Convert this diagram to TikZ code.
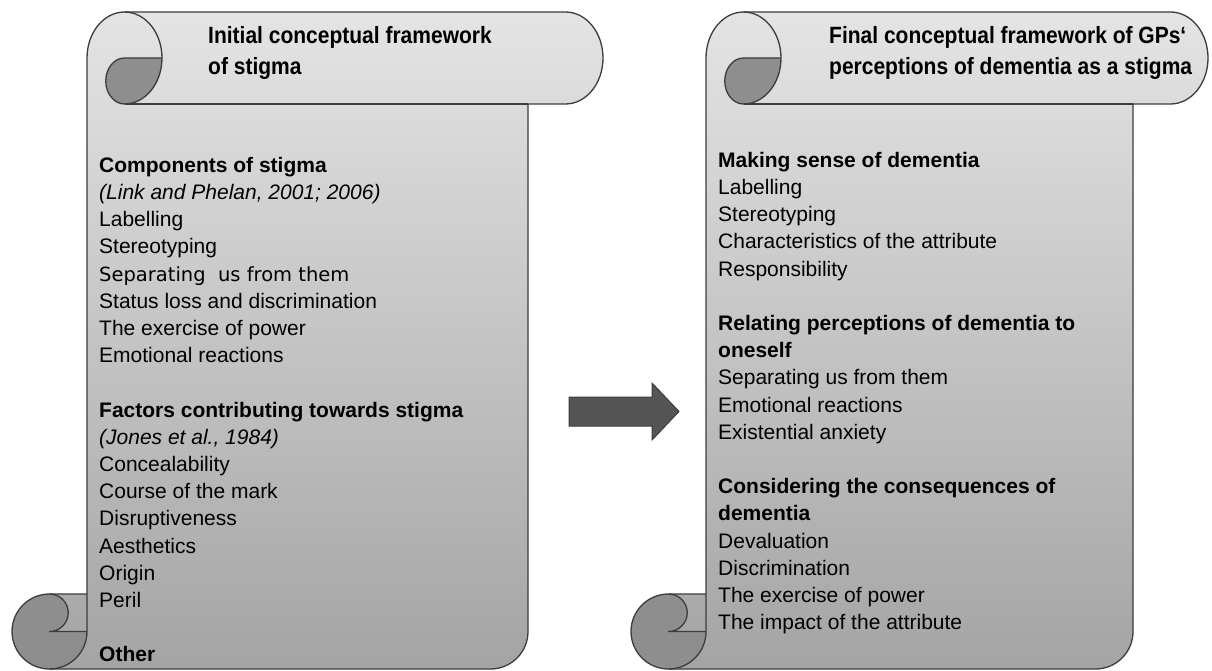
\documentclass[tikz,border=0pt]{standalone}
\usepackage{fontspec}
\setmainfont{Liberation Sans}
\newfontfamily\widefont{DejaVu Sans}
\usepackage{xcolor}
\usetikzlibrary{positioning}

\definecolor{scrolltop}{HTML}{E4E4E4}
\definecolor{scrollbottom}{HTML}{A4A4A4}
\definecolor{curlgray}{HTML}{8E8E8E}
\definecolor{edgegray}{HTML}{3C3C3C}
\definecolor{arrowgray}{HTML}{555555}

%% scroll geometry: top, bottom, curl size and its halves
\def\scT{12}
\def\scB{669}
\def\scC{75}
\def\scH{37.5}
\def\scQ{18.75}
% the top roll is a bit taller than the bottom curl
\def\scV{46}
\def\scW{23}

% #1 = left edge, #2 = right edge of the scroll
\newcommand{\drawscroll}[2]{%
  \pgfmathsetmacro{\scXa}{#1+\scH}
  \pgfmathsetmacro{\scXb}{#1+\scC}
  \pgfmathsetmacro{\scXc}{#1+\scC+\scH}
  \pgfmathsetmacro{\scXd}{#1+2*\scC}
  \pgfmathsetmacro{\scXe}{#2-\scC}
  \pgfmathsetmacro{\scXf}{#2-\scH}
  \pgfmathsetmacro{\scYa}{\scT+\scV}
  \pgfmathsetmacro{\scYb}{\scT+2*\scV}
  \pgfmathsetmacro{\scYc}{\scB-\scC}
  \pgfmathsetmacro{\scYd}{\scB-\scH}
  \shade[scrollfill] (\scXb,\scYc) -- (\scXb,\scYa)
    arc[start angle=180, end angle=270, x radius=\scH, y radius=\scV] -- (\scXf,\scT)
    arc[start angle=270, end angle=450, x radius=\scH, y radius=\scV] -- (\scXe,\scYb) -- (\scXe,\scYd)
    arc[start angle=0, end angle=90, radius=\scH] -- (\scXa,\scB)
    arc[start angle=90, end angle=270, radius=\scH] -- cycle;
  \fill[curlfill] (\scXd,\scYa) arc[start angle=0, end angle=90, x radius=\scH, y radius=\scV]
    arc[start angle=90, end angle=270, x radius=\scQ, y radius=\scW] -- cycle;
  \fill[curlfill] (\scXa,\scYc) arc[start angle=270, end angle=450, radius=\scQ] -- (\scXb,\scYd)
    arc[start angle=0, end angle=90, radius=\scH]
    arc[start angle=90, end angle=270, radius=\scH] -- cycle;
  \draw[scrollline] (\scXb,\scYc) -- (\scXb,\scYa)
    arc[start angle=180, end angle=270, x radius=\scH, y radius=\scV] -- (\scXf,\scT)
    arc[start angle=270, end angle=450, x radius=\scH, y radius=\scV] -- (\scXe,\scYb) -- (\scXe,\scYd)
    arc[start angle=0, end angle=90, radius=\scH] -- (\scXa,\scB)
    arc[start angle=90, end angle=270, radius=\scH] -- cycle;
  \draw[scrollline] (\scXc,\scT) arc[start angle=270, end angle=450, x radius=\scH, y radius=\scV]
    arc[start angle=90, end angle=270, x radius=\scQ, y radius=\scW] -- (\scXd,\scYa);
  \draw[scrollline] (\scXc,\scYb) -- (\scXe,\scYb);
  \draw[scrollline] (\scXa,\scYc) arc[start angle=270, end angle=450, radius=\scQ] -- (\scXb,\scYd);
  \draw[scrollline] (\scXa,\scB) arc[start angle=90, end angle=0, radius=\scH] -- (\scXb,\scYc);
}

\begin{document}
\begin{tikzpicture}[
  x=1pt, y=-1pt,
  scrollfill/.style={top color=scrolltop, bottom color=scrollbottom},
  curlfill/.style={fill=curlgray},
  scrollline/.style={draw=edgegray, line width=1.3pt, line join=round},
  heading/.style={font=\bfseries\fontsize{21}{27.7}\selectfont, align=left,
                  anchor=north west, inner sep=0pt, yscale=1.12},
  itemlist/.style={font=\fontsize{21}{27.2}\selectfont, align=left,
                   anchor=north west, inner sep=0pt},
  bigarrow/.style={fill=arrowgray, draw=edgegray, line width=1pt, line join=miter}
]
\useasboundingbox (0,0) rectangle (1212,671);

%% Scrolls
\drawscroll{12}{603}
\drawscroll{631}{1208}

%% Nodes (first baseline sits one strut below the anchor)
\node[heading] (inittitle) at (208,22) {\strut Initial conceptual framework\\of stigma};
\node[heading] (finaltitle) at (829,22)
  {\strut Final conceptual framework of GPs‘\\perceptions of dementia as a stigma};

\node[itemlist] (initlist) at (99,153) {%
  \strut\textbf{Components of stigma}\\
  \textit{(Link and Phelan, 2001; 2006)}\\
  Labelling\\
  Stereotyping\\
  {\widefont\fontsize{19.5}{27.2}\selectfont Separating\ \ us from them}\\
  Status loss and discrimination\\
  The exercise of power\\
  Emotional reactions\\[27.2pt]
  \textbf{Factors contributing towards stigma}\\
  \textit{(Jones et al., 1984)}\\
  Concealability\\
  Course of the mark\\
  Disruptiveness\\
  Aesthetics\\
  Origin\\
  Peril\\[27.2pt]
  \textbf{Other}};

\node[itemlist] (finallist) at (718,148) {%
  \strut\textbf{Making sense of dementia}\\
  Labelling\\
  Stereotyping\\
  Characteristics of the attribute\\
  Responsibility\\[27.2pt]
  \textbf{Relating perceptions of dementia to}\\
  \textbf{oneself}\\
  Separating us from them\\
  Emotional reactions\\
  Existential anxiety\\[27.2pt]
  \textbf{Considering the consequences of}\\
  \textbf{dementia}\\
  Devaluation\\
  Discrimination\\
  The exercise of power\\
  The impact of the attribute};

%% Arrow
\coordinate (shaftstart) at (569,411.5);
\draw[bigarrow] (shaftstart) ++(0,-14.5) -- ++(83,0) -- ++(0,-14) -- ++(27,28.5)
  -- ++(-27,28.5) -- ++(0,-14) -- ++(-83,0) -- cycle;

\end{tikzpicture}
\end{document}
